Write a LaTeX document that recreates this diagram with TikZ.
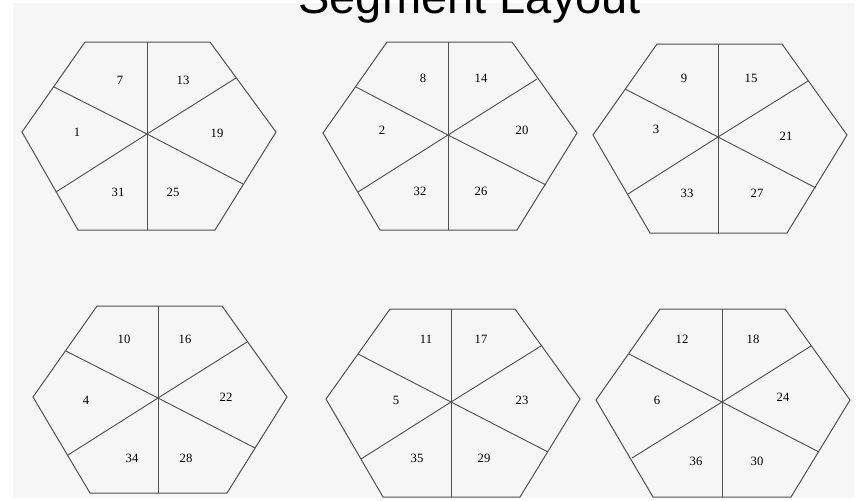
\documentclass[tikz,border=0pt]{standalone}
\usepackage{fontspec}
\setmainfont{Liberation Serif}
\newfontfamily\titlefont{Liberation Sans}
\definecolor{bg}{HTML}{F6F6F6}
\definecolor{ln}{HTML}{505050}
\tikzset{
  edge/.style={draw=ln, line width=0.75pt, line join=miter},
  spoke/.style={draw=ln, line width=0.7pt},
  seg/.style={font=\fontsize{9.5}{10}\selectfont, inner sep=0pt, text=black},
}
\newcommand{\drawhex}[1]{%
  \draw[edge] (#1TL) -- (#1TR) -- (#1R) -- (#1BR) -- (#1BL) -- (#1L) -- cycle;
  \draw[spoke] (#1VT) -- (#1VB);
  \draw[spoke] (#1UL) -- (#1C) -- (#1LR);
  \draw[spoke] (#1UR) -- (#1C) -- (#1LL);
}
\begin{document}
\begin{tikzpicture}[x=0.75pt,y=-0.75pt]
\useasboundingbox (0,0) rectangle (856,500);
\clip (0,0) rectangle (856,500);
\fill[bg] (13,3) rectangle (854,498);
\node[font=\titlefont\fontsize{35.3}{36}\selectfont, anchor=base west, inner sep=0pt] (title) at (298,13) {Segment Layout};

% Hexagon 1
\coordinate (aTL) at (85,42); \coordinate (aTR) at (210,42); \coordinate (aR) at (276,132);
\coordinate (aBR) at (215,230); \coordinate (aBL) at (78,230); \coordinate (aL) at (22,132);
\coordinate (aC) at (147,134); \coordinate (aVT) at (147,42); \coordinate (aVB) at (147,230);
\coordinate (aUL) at (54,87); \coordinate (aUR) at (236,78); \coordinate (aLR) at (243,184); \coordinate (aLL) at (56,192);
\drawhex{a}
\node[seg] (s7) at (120,80) {7}; \node[seg] (s13) at (183,80) {13};
\node[seg] (s1) at (77,132) {1}; \node[seg] (s19) at (217,133) {19};
\node[seg] (s31) at (118,192) {31}; \node[seg] (s25) at (173,192) {25};

% Hexagon 2
\coordinate (bTL) at (387,42); \coordinate (bTR) at (512,42); \coordinate (bR) at (577,133);
\coordinate (bBR) at (517,230); \coordinate (bBL) at (380,230); \coordinate (bL) at (323,133);
\coordinate (bC) at (448,135); \coordinate (bVT) at (448,42); \coordinate (bVB) at (448,230);
\coordinate (bUL) at (356,87); \coordinate (bUR) at (537,79); \coordinate (bLR) at (546,185); \coordinate (bLL) at (358,192);
\drawhex{b}
\node[seg] (s8) at (423,78) {8}; \node[seg] (s14) at (481,78) {14};
\node[seg] (s2) at (382,130) {2}; \node[seg] (s20) at (522,130) {20};
\node[seg] (s32) at (420,191) {32}; \node[seg] (s26) at (481,191) {26};

% Hexagon 3
\coordinate (cTL) at (657,44); \coordinate (cTR) at (782,44); \coordinate (cR) at (847,135);
\coordinate (cBR) at (787,233); \coordinate (cBL) at (650,233); \coordinate (cL) at (593,135);
\coordinate (cC) at (718,137); \coordinate (cVT) at (718,44); \coordinate (cVB) at (718,233);
\coordinate (cUL) at (625,89); \coordinate (cUR) at (808,81); \coordinate (cLR) at (816,188); \coordinate (cLL) at (628,194);
\drawhex{c}
\node[seg] (s9) at (684,78) {9}; \node[seg] (s15) at (751,78) {15};
\node[seg] (s3) at (656,129) {3}; \node[seg] (s21) at (786,136) {21};
\node[seg] (s33) at (687,193) {33}; \node[seg] (s27) at (757,193) {27};

% Hexagon 4
\coordinate (dTL) at (97,306); \coordinate (dTR) at (222,306); \coordinate (dR) at (287,397);
\coordinate (dBR) at (227,493); \coordinate (dBL) at (90,493); \coordinate (dL) at (33,397);
\coordinate (dC) at (158,398); \coordinate (dVT) at (158,306); \coordinate (dVB) at (158,493);
\coordinate (dUL) at (66,351); \coordinate (dUR) at (247,342); \coordinate (dLR) at (255,448); \coordinate (dLL) at (68,455);
\drawhex{d}
\node[seg] (s10) at (124,339) {10}; \node[seg] (s16) at (185,339) {16};
\node[seg] (s4) at (86,400) {4}; \node[seg] (s22) at (226,397) {22};
\node[seg] (s34) at (132,458) {34}; \node[seg] (s28) at (186,458) {28};

% Hexagon 5
\coordinate (eTL) at (390,309); \coordinate (eTR) at (515,309); \coordinate (eR) at (580,399);
\coordinate (eBR) at (520,497); \coordinate (eBL) at (383,497); \coordinate (eL) at (326,399);
\coordinate (eC) at (451,402); \coordinate (eVT) at (451,309); \coordinate (eVB) at (451,497);
\coordinate (eUL) at (358,354); \coordinate (eUR) at (541,346); \coordinate (eLR) at (548,452); \coordinate (eLL) at (361,459);
\drawhex{e}
\node[seg] (s11) at (426,339) {11}; \node[seg] (s17) at (481,339) {17};
\node[seg] (s5) at (396,400) {5}; \node[seg] (s23) at (522,400) {23};
\node[seg] (s35) at (417,458) {35}; \node[seg] (s29) at (484,458) {29};

% Hexagon 6
\coordinate (fTL) at (660,309); \coordinate (fTR) at (785,309); \coordinate (fR) at (850,400);
\coordinate (fBR) at (791,497); \coordinate (fBL) at (653,497); \coordinate (fL) at (596,400);
\coordinate (fC) at (722,402); \coordinate (fVT) at (722,309); \coordinate (fVB) at (722,497);
\coordinate (fUL) at (629,354); \coordinate (fUR) at (811,346); \coordinate (fLR) at (819,452); \coordinate (fLL) at (632,458);
\drawhex{f}
\node[seg] (s12) at (682,339) {12}; \node[seg] (s18) at (753,339) {18};
\node[seg] (s6) at (657,400) {6}; \node[seg] (s24) at (783,397) {24};
\node[seg] (s36) at (696,461) {36}; \node[seg] (s30) at (757,461) {30};
\end{tikzpicture}
\end{document}
